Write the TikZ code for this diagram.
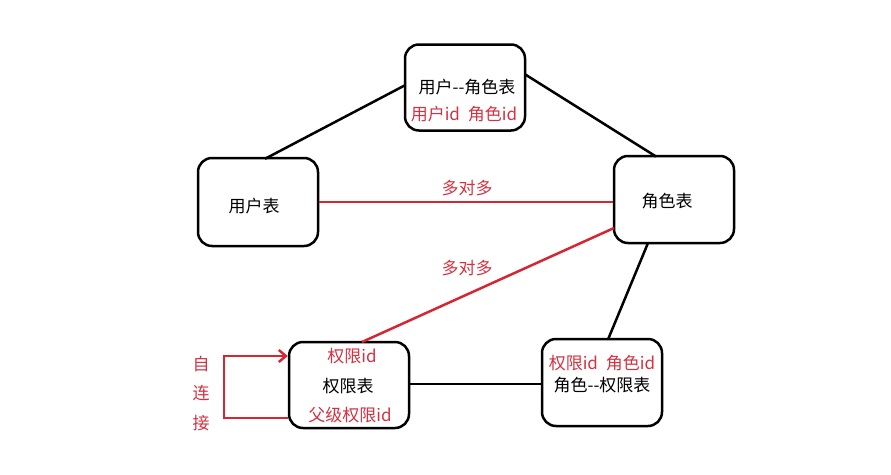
\documentclass[tikz,border=0pt]{standalone}
\usepackage{fontspec}
\setmainfont{Noto Sans CJK SC}
\usetikzlibrary{arrows.meta}
\definecolor{myred}{RGB}{214,38,50}
\definecolor{txtred}{RGB}{210,50,65}
\begin{document}
\begin{tikzpicture}[x=1pt,y=-1pt,
  tbl/.style={draw=black,line width=2.5pt,rounded corners=14pt,inner sep=0pt,minimum width=120pt},
  blk/.style={line width=2.5pt,draw=black},
  rl/.style={line width=2.5pt,draw=myred},
  lbl/.style={font=\fontsize{17}{19}\selectfont,inner sep=0pt},
  rlbl/.style={lbl,text=txtred}]
\useasboundingbox (0,0) rectangle (891,474);
% boxes
\node[tbl,minimum height=86pt] (ur) at (465,87.5) {};
\node[tbl,minimum height=88pt] (u) at (258,202) {};
\node[tbl,minimum height=87pt] (r) at (674,199.5) {};
\node[tbl,minimum height=86pt] (p) at (349,385) {};
\node[tbl,minimum height=87pt] (rp) at (602,382.5) {};
% texts
\node[lbl] (t1) at (467,87) {用户{-}{-}角色表};
\node[rlbl] (t2) at (464,114) {用户id\hspace{8pt}角色id};
\node[lbl] (t3) at (254,206) {用户表};
\node[lbl] (t4) at (667,201) {角色表};
\node[rlbl] (t5) at (352,356) {权限id};
\node[lbl] (t6) at (348,386) {权限表};
\node[rlbl] (t7) at (350,415) {父级权限id};
\node[rlbl] (t8) at (602,363) {权限id\hspace{8pt}角色id};
\node[lbl] (t9) at (602,385) {角色{-}{-}权限表};
\node[rlbl] (m1) at (467,188) {多对多};
\node[rlbl] (m2) at (467,268) {多对多};
\node[rlbl] (z1) at (201,364) {自};
\node[rlbl] (z2) at (201,393) {连};
\node[rlbl] (z3) at (201,423) {接};
% connectors
\coordinate (a1) at (265,158.8);
\coordinate (a2) at (405.5,85);
\draw[blk] (a1) -- (a2);
\coordinate (b1) at (524.5,74);
\coordinate (b2) at (656,156.5);
\draw[blk] (b1) -- (b2);
\draw[rl] (u.east |- 0,202) -- (r.west |- 0,202);
\coordinate (c1) at (614,228);
\coordinate (c2) at (362,342);
\draw[rl] (c1) -- (c2);
\coordinate (d1) at (648,243);
\coordinate (d2) at (608,339.5);
\draw[blk] (d1) -- (d2);
\draw[blk] (p.east |- 0,384) -- (rp.west |- 0,384);
\draw[rl,-{Straight Barb[length=7pt,width=12pt]}] (p.west |- 0,418) -- (224,418) -- (224,356) -- (p.west |- 0,356);
\end{tikzpicture}
\end{document}
